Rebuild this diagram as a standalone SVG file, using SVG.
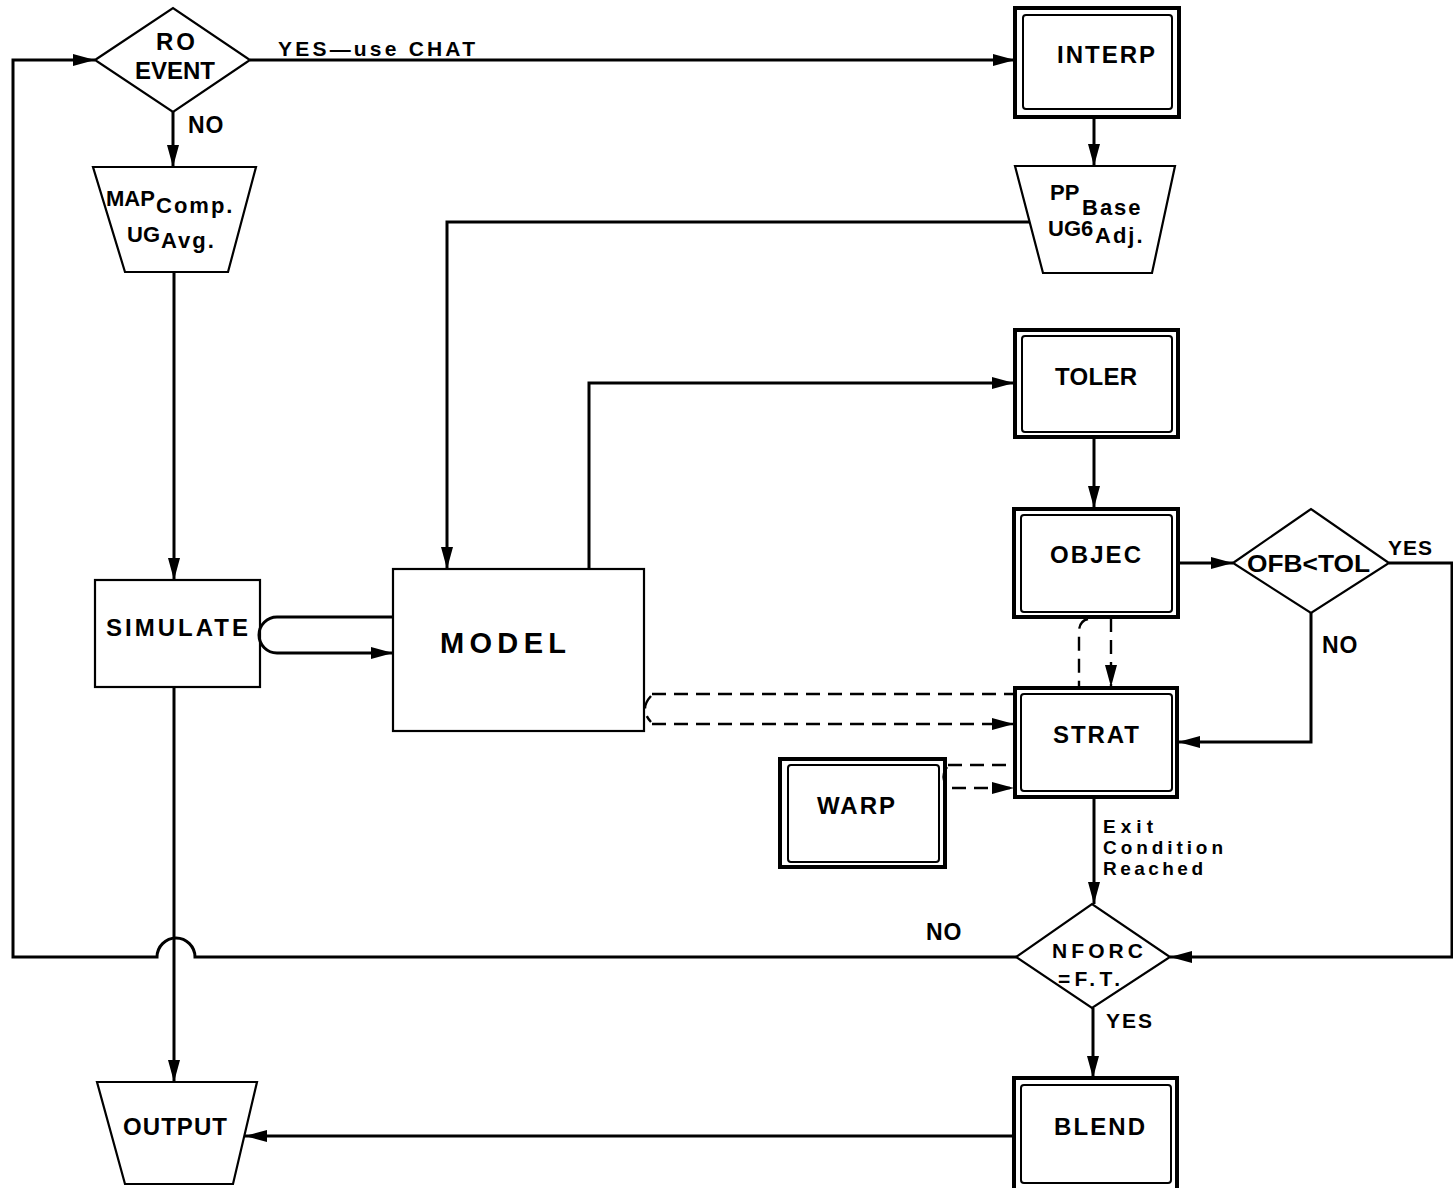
<svg xmlns="http://www.w3.org/2000/svg" width="1453" height="1188" viewBox="0 0 1453 1188">
<style>
text{font-family:"Liberation Sans",Arial,sans-serif;font-weight:bold;fill:#000}
.lbl{font-size:24px}
.sm{font-size:21px}
.no{font-size:23px;letter-spacing:1px}
.main{font-size:22px}
.sub{font-size:22px;letter-spacing:2px}
.shape{fill:none;stroke:#000;stroke-width:2.2}
.outer{fill:none;stroke:#000;stroke-width:4}
.inner{fill:none;stroke:#000;stroke-width:2}
.con{fill:none;stroke:#000;stroke-width:3}
.dash{fill:none;stroke:#000;stroke-width:2.4;stroke-dasharray:14 8}
</style>
<defs>
<marker id="ah" viewBox="0 0 22 12" refX="22" refY="6" markerWidth="22" markerHeight="12" markerUnits="userSpaceOnUse" orient="auto"><path d="M0,0 L22,6 L0,12 z" fill="#000"/></marker>
</defs>
<rect width="1453" height="1188" fill="#fff"/>

<g id="connectors">
<path class="con" d="M1016,957 H195 A19,19 0 0 0 157,957 H13 V60 H95" marker-end="url(#ah)"/>
<path class="con" d="M250,60 H1015" marker-end="url(#ah)"/>
<path class="con" d="M173,112 V167" marker-end="url(#ah)"/>
<path class="con" d="M174,272 V580" marker-end="url(#ah)"/>
<path class="con" d="M174,687 V1082" marker-end="url(#ah)"/>
<path class="con" d="M393,617 H277 A18,18 0 0 0 277,653 H393" marker-end="url(#ah)"/>
<path class="con" d="M1094,117 V166" marker-end="url(#ah)"/>
<path class="con" d="M1030,222 H447 V569" marker-end="url(#ah)"/>
<path class="con" d="M589,569 V383 H1014" marker-end="url(#ah)"/>
<path class="con" d="M1094,437 V508" marker-end="url(#ah)"/>
<path class="con" d="M1178,563 H1233" marker-end="url(#ah)"/>
<path class="con" d="M1389,563 H1452 V957 H1170" marker-end="url(#ah)"/>
<path class="con" d="M1311,613 V742 H1178" marker-end="url(#ah)"/>
<path class="con" d="M1094,797 V904" marker-end="url(#ah)"/>
<path class="con" d="M1093,1008 V1078" marker-end="url(#ah)"/>
<path class="con" d="M1014,1136 H245" marker-end="url(#ah)"/>
<path class="dash" d="M652,694 H1014"/>
<path class="dash" d="M652,724 H1014" marker-end="url(#ah)"/>
<path class="dash" d="M651,696 Q639,709 651,722"/>
<path class="dash" d="M948,765 H1014"/>
<path class="dash" d="M952,788 H1014" marker-end="url(#ah)"/>
<path class="dash" d="M947,767 Q940,777 947,786"/>
<path class="dash" d="M1088,619 Q1079,621 1079,632 V687"/>
<path class="dash" d="M1111,618 V687" marker-end="url(#ah)"/>
</g>

<g id="ro-event">
<polygon class="shape" points="95,60 173,8 250,60 173,112"/>
<text class="lbl" x="156" y="50" textLength="39" lengthAdjust="spacing">RO</text>
<text class="lbl" x="135" y="79" textLength="80" lengthAdjust="spacing">EVENT</text>
</g>
<text class="no" x="188" y="133">NO</text>
<text class="sm" x="278" y="56" textLength="197" lengthAdjust="spacing">YES—use CHAT</text>

<g id="map">
<polygon class="shape" points="93,167 256,167 228,272 125,272"/>
<text class="main" x="106" y="206">MAP</text>
<text class="sub" x="156" y="213">Comp.</text>
<text class="main" x="127" y="242">UG</text>
<text class="sub" x="161" y="248">Avg.</text>
</g>

<g id="interp">
<rect class="outer" x="1015" y="8" width="164" height="109"/>
<rect class="inner" x="1023" y="15" width="149" height="94" rx="3"/>
<text class="lbl" x="1057" y="63" textLength="98" lengthAdjust="spacing">INTERP</text>
</g>

<g id="pp">
<polygon class="shape" points="1015,166 1175,166 1152,273 1043,273"/>
<text class="main" x="1050" y="200">PP</text>
<text class="sub" x="1082" y="215">Base</text>
<text class="main" x="1048" y="236">UG6</text>
<text class="sub" x="1095" y="243">Adj.</text>
</g>

<g id="simulate">
<rect class="shape" x="95" y="580" width="165" height="107"/>
<text class="lbl" x="106" y="636" textLength="142" lengthAdjust="spacing">SIMULATE</text>
</g>

<g id="model">
<rect class="shape" x="393" y="569" width="251" height="162"/>
<text style="font-size:29px" x="440" y="653" textLength="126" lengthAdjust="spacing">MODEL</text>
</g>

<g id="toler">
<rect class="outer" x="1015" y="330" width="163" height="107"/>
<rect class="inner" x="1022" y="336" width="150" height="96" rx="3"/>
<text class="lbl" x="1055" y="385" textLength="82" lengthAdjust="spacing">TOLER</text>
</g>

<g id="objec">
<rect class="outer" x="1014" y="509" width="164" height="108"/>
<rect class="inner" x="1021" y="515" width="151" height="97" rx="3"/>
<text class="lbl" x="1050" y="563" textLength="91" lengthAdjust="spacing">OBJEC</text>
</g>

<g id="ofb-tol">
<polygon class="shape" points="1233,563 1311,509 1389,563 1311,613"/>
<text style="font-size:24px" x="1247" y="572" textLength="123" lengthAdjust="spacingAndGlyphs">OFB&lt;TOL</text>
</g>
<text class="sm" x="1388" y="555" textLength="44" lengthAdjust="spacing">YES</text>
<text class="no" x="1322" y="653">NO</text>

<g id="strat">
<rect class="outer" x="1015" y="688" width="162" height="109"/>
<rect class="inner" x="1021" y="694" width="151" height="97" rx="3"/>
<text class="lbl" x="1053" y="743" textLength="86" lengthAdjust="spacing">STRAT</text>
</g>

<g id="warp">
<rect class="outer" x="780" y="759" width="165" height="108"/>
<rect class="inner" x="788" y="765" width="151" height="97" rx="3"/>
<text class="lbl" x="817" y="814" textLength="78" lengthAdjust="spacing">WARP</text>
</g>

<text style="font-size:19px" x="1103" y="833" textLength="50" lengthAdjust="spacing">Exit</text>
<text style="font-size:19px" x="1103" y="854" textLength="120" lengthAdjust="spacing">Condition</text>
<text style="font-size:19px" x="1103" y="875" textLength="100" lengthAdjust="spacing">Reached</text>

<g id="nforc">
<polygon class="shape" points="1016,957 1092,904 1170,957 1092,1008"/>
<text class="sm" x="1052" y="958" textLength="91" lengthAdjust="spacing">NFORC</text>
<text class="sm" x="1058" y="986" textLength="62" lengthAdjust="spacing">=F.T.</text>
</g>
<text class="no" x="926" y="940">NO</text>
<text class="sm" x="1106" y="1028" textLength="46" lengthAdjust="spacing">YES</text>

<g id="blend">
<rect class="outer" x="1014" y="1078" width="163" height="112"/>
<rect class="inner" x="1021" y="1085" width="150" height="98" rx="3"/>
<text class="lbl" x="1054" y="1135" textLength="91" lengthAdjust="spacing">BLEND</text>
</g>

<g id="output">
<polygon class="shape" points="97,1082 257,1082 233,1184 125,1184"/>
<text class="lbl" x="123" y="1135" textLength="104" lengthAdjust="spacing">OUTPUT</text>
</g>
</svg>
